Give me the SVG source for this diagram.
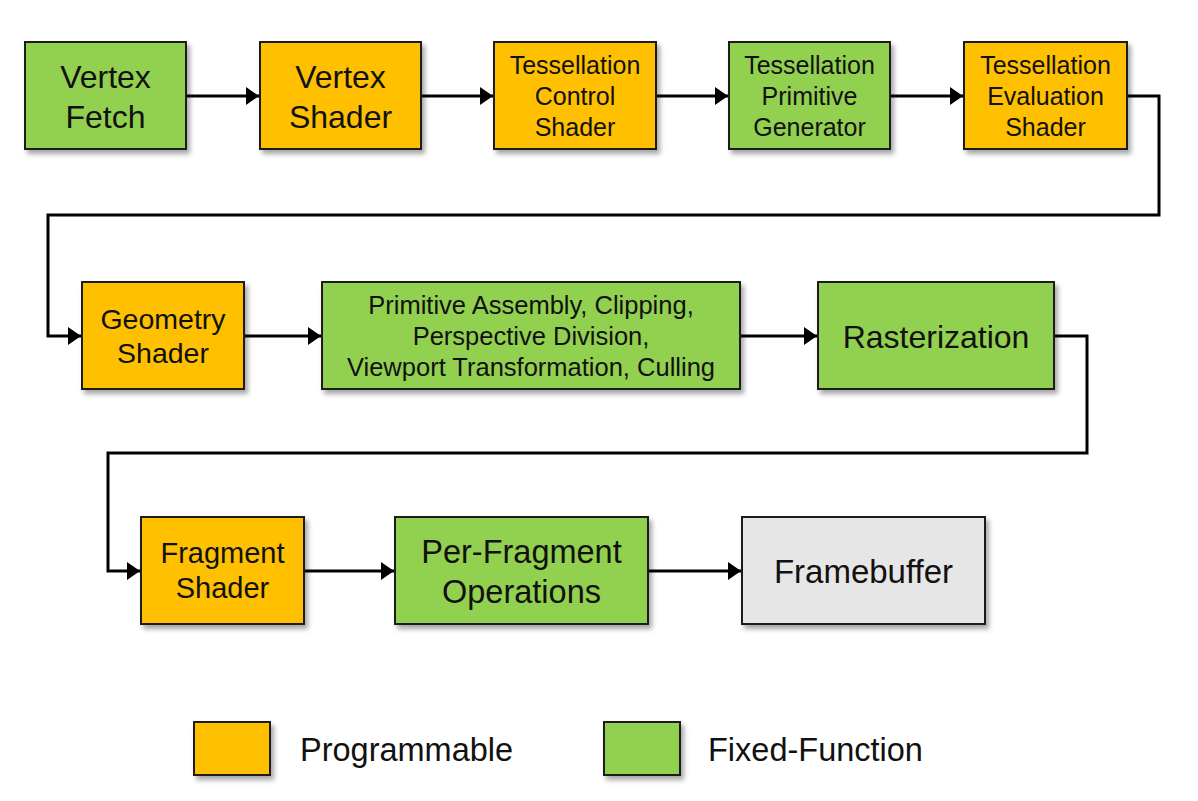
<svg xmlns="http://www.w3.org/2000/svg" width="1198" height="801" viewBox="0 0 1198 801">
<style>
.node rect{stroke:#1a1a1a;stroke-width:2;filter:url(#sh)}
.prog{fill:#FFC000}
.fixed{fill:#92D050}
.fb{fill:#E7E6E6}
text{font-family:"Liberation Sans",Arial,sans-serif;fill:#111;text-anchor:middle}
.conn path{fill:none;stroke:#000;stroke-width:3;marker-end:url(#ah)}
</style>
<defs>
<filter id="sh" x="-10%" y="-10%" width="130%" height="140%">
<feDropShadow dx="3" dy="4" stdDeviation="2.5" flood-color="#000" flood-opacity="0.35"/>
</filter>
<marker id="ah" markerUnits="userSpaceOnUse" markerWidth="14" markerHeight="18" refX="13" refY="9" orient="auto">
<path d="M0,0 L13,9 L0,18 Z" fill="#000"/>
</marker>
</defs>
<rect width="1198" height="801" fill="#fff"/>
<g class="conn" id="connectors">
<path d="M186,96 H259"/>
<path d="M421,96 H493"/>
<path d="M656,96 H728"/>
<path d="M890,96 H963"/>
<path d="M1127,96 H1159 V215 H48 V336 H81"/>
<path d="M244,336 H321"/>
<path d="M740,336 H817"/>
<path d="M1054,336 H1087 V453 H108 V571 H140"/>
<path d="M304,571 H394"/>
<path d="M648,571 H741"/>
</g>
<g class="node" id="vertex-fetch"><rect class="fixed" x="25" y="42" width="161" height="107"/>
<text font-size="32"><tspan x="105.5" y="87.5">Vertex</tspan><tspan x="105.5" y="127.5">Fetch</tspan></text></g>
<g class="node" id="vertex-shader"><rect class="prog" x="260" y="42" width="161" height="107"/>
<text font-size="32"><tspan x="340.5" y="87.5">Vertex</tspan><tspan x="340.5" y="127.5">Shader</tspan></text></g>
<g class="node" id="tess-control"><rect class="prog" x="494" y="42" width="162" height="107"/>
<text font-size="25"><tspan x="575" y="74">Tessellation</tspan><tspan x="575" y="105">Control</tspan><tspan x="575" y="136">Shader</tspan></text></g>
<g class="node" id="tess-prim-gen"><rect class="fixed" x="729" y="42" width="161" height="107"/>
<text font-size="25"><tspan x="809.5" y="74">Tessellation</tspan><tspan x="809.5" y="105">Primitive</tspan><tspan x="809.5" y="136">Generator</tspan></text></g>
<g class="node" id="tess-eval"><rect class="prog" x="964" y="42" width="163" height="107"/>
<text font-size="25"><tspan x="1045.5" y="74">Tessellation</tspan><tspan x="1045.5" y="105">Evaluation</tspan><tspan x="1045.5" y="136">Shader</tspan></text></g>
<g class="node" id="geometry-shader"><rect class="prog" x="82" y="282" width="162" height="107"/>
<text font-size="28.5"><tspan x="163" y="329">Geometry</tspan><tspan x="163" y="363">Shader</tspan></text></g>
<g class="node" id="primitive-assembly"><rect class="fixed" x="322" y="282" width="418" height="107"/>
<text font-size="25.5"><tspan x="531" y="314">Primitive Assembly, Clipping,</tspan><tspan x="531" y="345">Perspective Division,</tspan><tspan x="531" y="376">Viewport Transformation, Culling</tspan></text></g>
<g class="node" id="rasterization"><rect class="fixed" x="818" y="282" width="236" height="107"/>
<text font-size="32" x="936" y="347.5">Rasterization</text></g>
<g class="node" id="fragment-shader"><rect class="prog" x="141" y="517" width="163" height="107"/>
<text font-size="29"><tspan x="222.5" y="563">Fragment</tspan><tspan x="222.5" y="598">Shader</tspan></text></g>
<g class="node" id="per-fragment"><rect class="fixed" x="395" y="517" width="253" height="107"/>
<text font-size="32.5"><tspan x="521.5" y="563">Per-Fragment</tspan><tspan x="521.5" y="603">Operations</tspan></text></g>
<g class="node" id="framebuffer"><rect class="fb" x="742" y="517" width="243" height="107"/>
<text font-size="33" x="863.5" y="583">Framebuffer</text></g>
<g class="node" id="legend-programmable"><rect class="prog" x="194" y="722" width="76" height="53"/>
<text font-size="32.5" x="300" y="761" style="text-anchor:start">Programmable</text></g>
<g class="node" id="legend-fixed"><rect class="fixed" x="604" y="722" width="76" height="53"/>
<text font-size="32.5" x="708" y="761" style="text-anchor:start">Fixed-Function</text></g>
</svg>
